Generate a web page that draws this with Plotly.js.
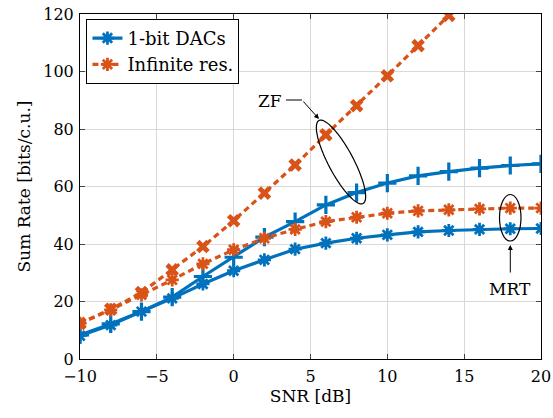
<!DOCTYPE html>
<html>
<head>
<meta charset="utf-8">
<script src="https://cdn.plot.ly/plotly-3.0.1.min.js"></script>
<style>html,body{margin:0;padding:0;background:#fff;}#chart{width:553px;height:418px;}</style>
</head>
<body>
<div id="chart"></div>
<script>
// ---- data ----
const snr = [-10,-8,-6,-4,-2,0,2,4,6,8,10,12,14,16,18,20];
const snrInf = [-10,-8,-6,-4,-2,0,2,4,6,8,10,12,14];
const zf1bit  = [8.4,12.2,16.5,21.5,28.7,35.4,42.4,47.8,53.6,57.9,61.2,63.7,65.2,66.4,67.3,67.9];
const mrt1bit = [8.1,11.8,16.5,21.1,26.1,30.7,34.5,38.2,40.3,42.0,43.2,44.2,44.7,45.1,45.3,45.4];
const zfInf   = [12.4,17.3,23.1,31.0,39.1,48.1,57.7,67.5,78.0,88.1,98.5,109.0,119.5];
const mrtInf  = [12.4,17.1,22.3,27.5,33.1,38.0,42.0,45.1,47.8,49.3,50.7,51.5,51.9,52.2,52.5,52.5];
const legendNames = ['1-bit DACs', 'Infinite res.'];
const xTicks = [-10,-5,0,5,10,15,20];
const yTicks = [0,20,40,60,80,100,120];

const blue = '#0072BD', orange = '#D95319';
const font = 'DejaVu Serif';

// layout geometry
const W = 553, H = 418, L = 80, R = 12, T = 14, B = 59;
const xr = [-10, 20], yr = [0, 120];
const pw = W - L - R, ph = H - T - B;
const px2x = p => xr[0] + (p - L) / pw * (xr[1] - xr[0]);
const py2y = p => yr[0] + (H - B - p) / ph * (yr[1] - yr[0]);

const traces = [
  {x: snr, y: mrt1bit, name: legendNames[0], mode: 'lines+markers', showlegend: true,
   line: {color: blue, width: 3.2},
   marker: {symbol: 'asterisk-open', size: 11, color: blue, line: {color: blue, width: 2.8}}},
  {x: snr, y: zf1bit, name: legendNames[0], mode: 'lines+markers', showlegend: false,
   line: {color: blue, width: 3.2},
   marker: {symbol: 'cross-thin-open', size: 13, color: blue, line: {color: blue, width: 3.2}}},
  {x: snr, y: mrtInf, name: legendNames[1], mode: 'lines+markers', showlegend: true,
   line: {color: orange, width: 3.2, dash: '6px,4px'},
   marker: {symbol: 'asterisk-open', size: 11, color: orange, line: {color: orange, width: 2.8}}},
  {x: snrInf, y: zfInf, name: legendNames[1], mode: 'lines+markers', showlegend: false,
   line: {color: orange, width: 3.2, dash: '6px,4px'},
   marker: {symbol: 'x', size: 12, color: orange, line: {width: 0}}}
];

// rotated ellipse around ZF curves (pixel geometry -> data)
function ellipsePath(cx, cy, a, b, deg) {
  const th = deg * Math.PI / 180;
  let d = '';
  for (let i = 0; i <= 72; i++) {
    const t = i / 72 * 2 * Math.PI;
    const px = cx + a * Math.cos(th) * Math.cos(t) - b * Math.sin(th) * Math.sin(t);
    const py = cy + a * Math.sin(th) * Math.cos(t) + b * Math.cos(th) * Math.sin(t);
    d += (i === 0 ? 'M ' : ' L ') + px2x(px) + ',' + py2y(py);
  }
  return d + ' Z';
}

const shapes = [
  {type: 'path', xref: 'x', yref: 'y', path: ellipsePath(341, 162, 47, 12.5, 62),
   line: {color: 'black', width: 1.2}},
  {type: 'circle', xref: 'x', yref: 'y', x0: px2x(499.5), x1: px2x(521), y0: py2y(241), y1: py2y(194.5),
   line: {color: 'black', width: 1.2}},
  {type: 'line', xref: 'x', yref: 'y', x0: px2x(286), y0: py2y(100), x1: px2x(302), y1: py2y(100),
   line: {color: 'black', width: 1}}
];

const annotations = [
  {xref: 'x', yref: 'y', x: px2x(270), y: py2y(101), text: 'ZF', showarrow: false,
   font: {family: font, size: 17, color: 'black'}},
  {xref: 'x', yref: 'y', x: px2x(319), y: py2y(119), ax: -17, ay: -19, text: '', showarrow: true,
   arrowhead: 2, arrowsize: 1, arrowwidth: 1, arrowcolor: 'black'},
  {xref: 'x', yref: 'y', x: px2x(510.3), y: py2y(245), ax: 0, ay: 29, text: '', showarrow: true,
   arrowhead: 2, arrowsize: 1, arrowwidth: 1, arrowcolor: 'black'},
  {xref: 'x', yref: 'y', x: px2x(510), y: py2y(289), text: 'MRT', showarrow: false,
   font: {family: font, size: 17, color: 'black'}}
];

const axisCommon = {
  showgrid: true, gridcolor: '#d9d9d9', gridwidth: 1,
  zeroline: false, showline: true, linecolor: 'black', linewidth: 1, mirror: 'allticks',
  ticks: 'inside', ticklen: 5, tickcolor: '#444', tickwidth: 1,
  tickfont: {family: font, size: 16, color: 'black'}
};

const layout = {
  width: W, height: H,
  margin: {l: L, r: R, t: T, b: B, pad: 0},
  paper_bgcolor: 'white', plot_bgcolor: 'white',
  font: {family: font, color: 'black'},
  xaxis: Object.assign({}, axisCommon, {
    range: xr, tickvals: xTicks, ticktext: xTicks.map(v => v < 0 ? '\u2212' + Math.abs(v) : String(v)),
    ticklabelstandoff: 3,
    title: {text: 'SNR [dB]', font: {family: font, size: 17, color: 'black'}, standoff: 4}
  }),
  yaxis: Object.assign({}, axisCommon, {
    range: yr, tickvals: yTicks, ticktext: yTicks.map(String),
    ticklabelstandoff: 2,
    title: {text: 'Sum Rate [bits/c.u.]', font: {family: font, size: 17, color: 'black'}, standoff: 8}
  }),
  legend: {x: 0.014, y: 0.986, xanchor: 'left', yanchor: 'top',
    bgcolor: 'white', bordercolor: 'black', borderwidth: 1,
    font: {family: font, size: 18, color: 'black'}, tracegroupgap: 0},
  shapes: shapes,
  annotations: annotations
};

Plotly.newPlot('chart', traces, layout, {displayModeBar: false, staticPlot: true});
</script>
</body>
</html>
